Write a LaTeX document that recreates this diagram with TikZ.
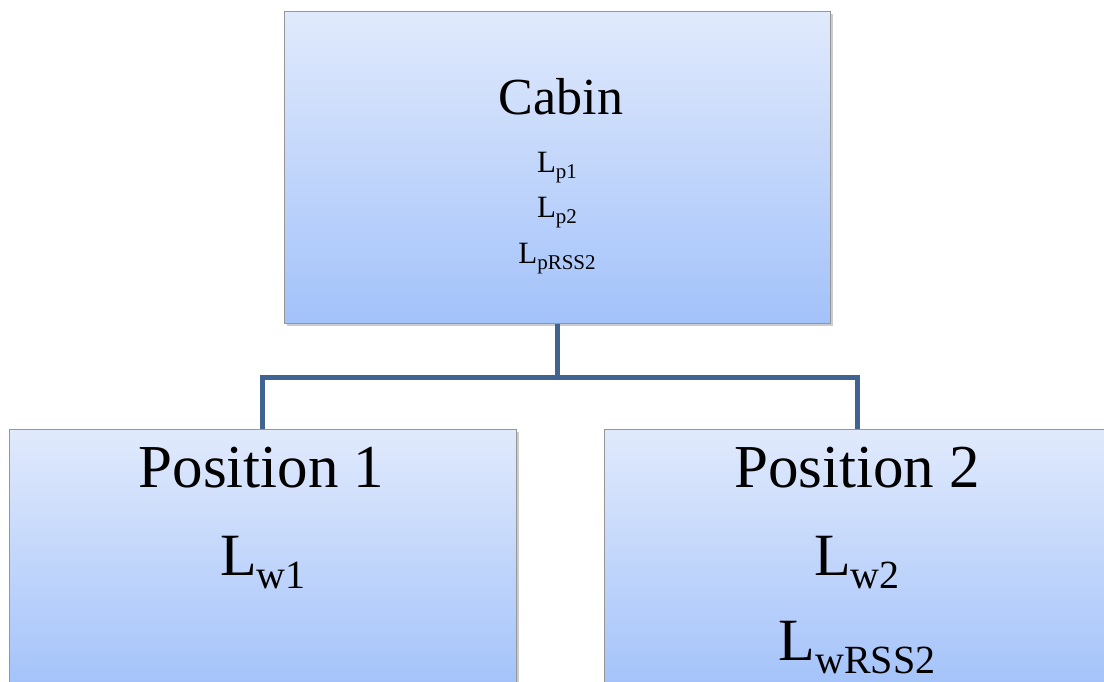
\documentclass[tikz,border=0pt]{standalone}
\usepackage{fontspec}
\setmainfont{Liberation Serif}
\usetikzlibrary{shadows}
\definecolor{boxtop}{RGB}{225,234,252}
\definecolor{boxbot}{RGB}{163,194,250}
\definecolor{linkc}{RGB}{64,100,145}
\definecolor{edgec}{RGB}{150,150,150}
\newcommand\Lsub[2]{L\raisebox{-0.22em}{\fontsize{#2}{#2}\selectfont #1}}
\tikzset{
  orgbox/.style={draw=edgec, line width=1pt, top color=boxtop, bottom color=boxbot,
    rectangle, inner sep=0pt, drop shadow={shadow xshift=2.5pt, shadow yshift=-2.5pt, opacity=0.4, fill=black!50}},
  link/.style={draw=linkc, line width=5pt},
  lbl/.style={anchor=base, inner sep=0pt, font=\fontsize{#1}{#1}\selectfont},
}
\begin{document}
\begin{tikzpicture}[x=1pt,y=-1pt]
\useasboundingbox (0,0) rectangle (1104,681);
\clip (0,0) rectangle (1104,681);
\node[orgbox, minimum width=546pt, minimum height=312pt] (top) at (557,167) {};
\node[orgbox, minimum width=507pt, minimum height=261pt] (bl) at (262.5,559.5) {};
\node[orgbox, minimum width=507pt, minimum height=261pt] (br) at (857.5,559.5) {};
\coordinate (mid) at (557,377);
\draw[link] (top.south) -- (mid);
\draw[link] (mid) -| (bl.north);
\draw[link] (mid) -| (br.north);
\node[lbl=52] (cabin) at (561,114) {Cabin};
\node[lbl=31] (lp1) at (557,172) {\Lsub{p1}{21}};
\node[lbl=31] (lp2) at (557,217) {\Lsub{p2}{21}};
\node[lbl=31] (lprss) at (557,263) {\Lsub{pRSS2}{21}};
\node[lbl=61] (pos1) at (261.5,487) {Position 1};
\node[lbl=60] (lw1) at (263,575) {\Lsub{w1}{40}};
\node[lbl=61] (pos2) at (857,487) {Position 2};
\node[lbl=60] (lw2) at (857,575) {\Lsub{w2}{40}};
\node[lbl=60] (lwrss) at (857,660) {\Lsub{wRSS2}{40}};
\end{tikzpicture}
\end{document}
